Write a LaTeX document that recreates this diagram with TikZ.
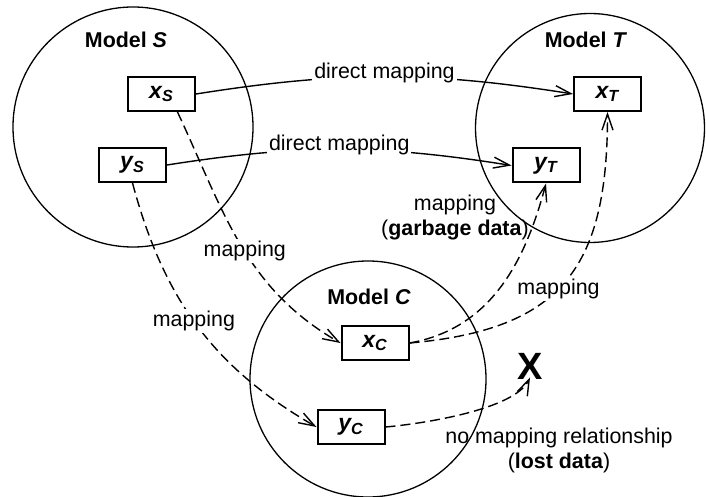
\documentclass[tikz,border=0pt]{standalone}
\usepackage{fontspec}
\setmainfont{Liberation Sans}
\usetikzlibrary{arrows.meta}

\tikzset{
  model/.style={circle, draw, line width=0.65pt, inner sep=0pt},
  modelname/.style={font=\fontsize{10.7}{12.5}\selectfont\bfseries},
  elem/.style={draw, line width=1pt, minimum width=33.5pt, minimum height=17pt,
    inner sep=0pt, font=\fontsize{11.5}{13}\selectfont\bfseries\itshape},
  link/.style={->, line width=0.7pt},
  map/.style={link, dash pattern=on 5pt off 2.5pt},
  tag/.style={fill=white, inner sep=1pt},
}

\begin{document}
\begin{tikzpicture}[x=0.5pt, y=-0.5pt, >={Straight Barb[length=8pt,width=5.5pt]},
    font=\fontsize{10.7}{12.5}\selectfont]
	\useasboundingbox (0,0) rectangle (706,497);
	% models
	\node[model, minimum size=120pt] (S) at (133,127) {};
	\node[model, minimum size=114.5pt] (T) at (590,128) {};
	\node[model, minimum size=118pt] (C) at (368,379) {};
	\node[modelname] (nameS) at (126,40) {Model \textit{S}};
	\node[modelname] (nameT) at (586,40) {Model \textit{T}};
	\node[modelname] (nameC) at (369,297) {Model \textit{C}};
	% elements
	\node[elem] (xS) at (161.5,94) {x\textsubscript{S}};
	\node[elem] (yS) at (132.5,165) {y\textsubscript{S}};
	\node[elem] (xT) at (607.5,94) {x\textsubscript{T}};
	\node[elem] (yT) at (546,165.5) {y\textsubscript{T}};
	\node[elem] (xC) at (375,343) {x\textsubscript{C}};
	\node[elem] (yC) at (351,427) {y\textsubscript{C}};
	\node[font=\fontsize{19}{19}\selectfont\bfseries, inner sep=0pt] (lost) at (530,366) {X};
	% direct mappings S -> T
	\draw[link] (xS.east) to[bend left=9] node[tag, yshift=2pt] {direct mapping} (xT.west);
	\draw[link] (yS.east) to[bend left=9] node[tag, yshift=2.5pt] {direct mapping} (yT.west);
	% mappings S -> C
	\draw[map] ([xshift=8pt]xS.south) to[out=-65, in=150] node[tag, pos=0.53] {mapping} (xC.west);
	\draw[map] (yS.south) to[out=-75, in=150] node[tag, pos=0.48] {mapping} (yC.west);
	% mappings C -> T
	\draw[map] (xC.east) to[out=10, in=-105] (yT.south);
	\draw[map] (xC.east) to[out=5, in=-90, looseness=1.3] node[tag, pos=0.46] {mapping} (xT.south);
	\draw[map] (yC.east) to[out=5, in=-115, looseness=0.6] ([yshift=1pt]lost.south);
	\node[align=center] (garbage) at (455,218) {mapping\\(\textbf{garbage data})};
	\node[align=center] (nomap) at (559,450) {no mapping relationship\\(\textbf{lost data})};
\end{tikzpicture}
\end{document}
